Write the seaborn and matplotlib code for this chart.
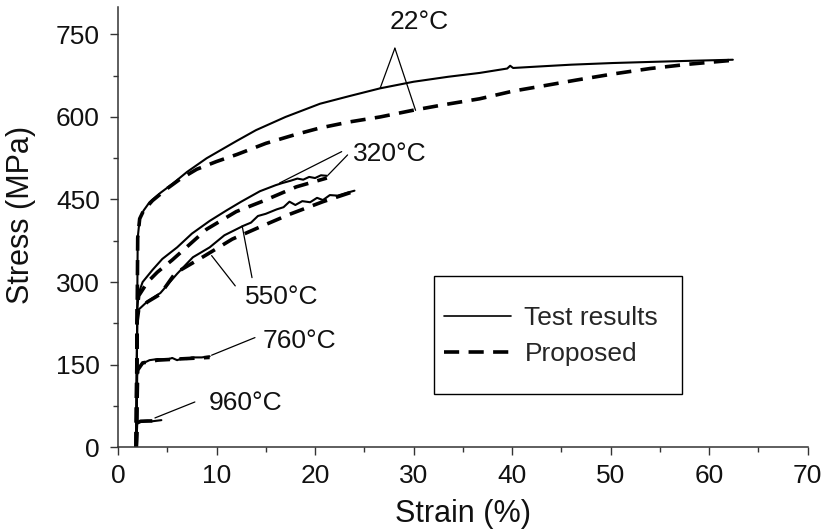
import matplotlib
matplotlib.use("Agg")
import matplotlib.pyplot as plt
import seaborn as sns
import pandas as pd
from matplotlib.lines import Line2D
from matplotlib.patches import Rectangle

# ---------------- data (strain %, stress MPa) ----------------
t22_x = [1.85, 2.0, 2.2, 2.6, 3.2, 4.3, 5.5, 7.0, 9.0, 12.0, 14.0, 17.0, 20.5, 23.5, 26.6,
         30.0, 33.5, 36.7, 39.5, 39.8, 40.1, 43.0, 46.0, 50.2, 54.0, 58.0, 62.4]
t22_y = [0, 380, 415, 430, 445, 462, 478, 500, 525, 556, 576, 600, 624, 638, 652,
         664, 673, 680, 688, 693, 689, 692, 695, 698, 700, 702, 704]
p22_x = [1.85, 2.0, 2.2, 2.6, 3.5, 5.0, 6.3, 8.0, 10.0, 12.1, 15.0, 18.0, 20.5, 23.5, 26.6,
         29.9, 33.0, 36.7, 40.1, 43.0, 46.5, 50.2, 54.0, 58.0, 62.4]
p22_y = [0, 380, 415, 430, 448, 470, 487, 505, 519, 532, 552, 568, 580, 591, 600,
         612, 622, 633, 647, 656, 667, 678, 688, 696, 703]

t320_x = [1.85, 1.95, 2.1, 2.5, 3.5, 4.5, 6.0, 7.5, 9.3, 11.0, 12.5, 14.4, 16.0, 16.7,
          17.5, 18.2, 18.8, 19.4, 20.0, 20.6, 21.2]
t320_y = [0, 250, 280, 300, 322, 342, 363, 388, 411, 430, 446, 465, 476, 480,
          484, 488, 486, 491, 489, 494, 493]
p320_x = [1.85, 1.95, 2.1, 3.0, 4.0, 5.5, 7.0, 9.0, 12.0, 14.7, 18.1, 21.2]
p320_y = [0, 250, 275, 300, 318, 340, 364, 396, 428, 447, 473, 489]

t550_x = [1.85, 1.95, 2.1, 3.0, 4.3, 6.0, 7.6, 9.3, 10.8, 12.7, 13.5, 14.2, 15.0, 16.1,
          16.8, 17.4, 18.0, 18.7, 19.5, 20.2, 20.8, 21.5, 22.3, 23.2, 24.0]
t550_y = [0, 230, 250, 265, 280, 315, 345, 363, 385, 402, 408, 420, 424, 432,
          436, 446, 440, 447, 445, 453, 449, 458, 457, 462, 466]
p550_x = [1.85, 1.95, 2.1, 3.0, 4.3, 5.8, 8.65, 11.6, 14.4, 17.4, 20.8, 24.0]
p550_y = [0, 230, 250, 264, 278, 316, 346, 378, 400, 423, 446, 465]

t760_x = [1.85, 1.95, 2.1, 2.5, 3.2, 4.0, 5.0, 5.5, 6.0, 6.5, 7.0, 7.5, 8.5, 9.3]
t760_y = [0, 130, 145, 152, 158, 160, 159, 162, 158, 161, 160, 163, 163, 165]
p760_x = [1.85, 2.0, 2.5, 4.0, 6.0, 9.3]
p760_y = [0, 140, 153, 158, 160, 163]

t960_x = [1.85, 1.95, 2.2, 3.0, 3.5, 4.4]
t960_y = [0, 42, 47, 48, 47, 49]
p960_x = [1.85, 1.95, 2.3, 4.4]
p960_y = [0, 44, 47, 48]

# annotation labels: (text, text_x, text_y, [(x0, y0, x1, y1), ...])
notes = [
    ("22\u00b0C", 30.6, 772, [(28.1, 725, 26.6, 652), (28.1, 725, 30.2, 612)]),
    ("320\u00b0C", 27.6, 533, [(22.7, 537, 16.4, 480), (23.3, 531, 21.3, 494)]),
    ("550\u00b0C", 16.6, 272, [(11.9, 293, 9.5, 348), (13.6, 308, 12.6, 402)]),
    ("760\u00b0C", 18.4, 193, [(13.9, 199, 9.5, 167)]),
    ("960\u00b0C", 12.9, 80, [(7.8, 82, 3.75, 53)]),
]

x_ticks = [0, 10, 20, 30, 40, 50, 60, 70]
y_ticks = [0, 150, 300, 450, 600, 750]

# ---------------- style ----------------
sns.set_style("ticks")
plt.rcParams["font.family"] = ["Liberation Sans", "DejaVu Sans"]

fig = plt.figure(figsize=(8.31, 5.31), dpi=100)
ax = fig.add_axes([0.142, 0.158, 0.830, 0.829])

tests = [(t22_x, t22_y), (t320_x, t320_y), (t550_x, t550_y), (t760_x, t760_y), (t960_x, t960_y)]
props = [(p22_x, p22_y), (p320_x, p320_y), (p550_x, p550_y), (p760_x, p760_y), (p960_x, p960_y)]

dash = (0, (4.2, 2.6))
for xs, ys in props:
    df = pd.DataFrame({"strain": xs, "stress": ys})
    sns.lineplot(data=df, x="strain", y="stress", sort=False, estimator=None,
                 color="black", lw=2.6, ax=ax, linestyle=dash)
for xs, ys in tests:
    df = pd.DataFrame({"strain": xs, "stress": ys})
    sns.lineplot(data=df, x="strain", y="stress", sort=False, estimator=None,
                 color="black", lw=1.5, ax=ax)

for txt, tx, ty, segs in notes:
    ax.text(tx, ty, txt, fontsize=19, ha="center", va="center", color="#111111")
    for (x0, y0, x1, y1) in segs:
        ax.plot([x0, x1], [y0, y1], color="black", lw=0.9)

ax.set_xlim(0, 70)
ax.set_ylim(0, 800)
ax.set_xticks(x_ticks)
ax.set_yticks(y_ticks)
ax.set_xticks([5, 15, 25, 35, 45, 55, 65], minor=True)
ax.set_yticks([75, 225, 375, 525, 675], minor=True)
ax.tick_params(axis="both", which="major", length=6, width=1.0, labelsize=19,
               colors="#333333", labelcolor="#111111", direction="out")
ax.tick_params(axis="both", which="minor", length=3.5, width=1.0, colors="#333333",
               direction="out")
ax.tick_params(axis="x", pad=6)
ax.tick_params(axis="y", pad=7)
ax.set_xlabel("Strain (%)", fontsize=22, labelpad=8, color="#111111")
ax.set_ylabel("Stress (MPa)", fontsize=22, color="#111111")
ax.yaxis.set_label_coords(-0.119, 0.527)
for s in ["top", "right"]:
    ax.spines[s].set_visible(False)
for s in ["left", "bottom"]:
    ax.spines[s].set_linewidth(1.1)
    ax.spines[s].set_color("#333333")

# legend box
ax.add_patch(Rectangle((0.458, 0.12), 0.359, 0.269, transform=ax.transAxes,
                       fill=False, edgecolor="black", lw=1.0, zorder=5))
handles = [Line2D([], [], color="black", lw=1.2),
           Line2D([], [], color="black", lw=2.6, linestyle=dash)]
ax.legend(handles, ["Test results", "Proposed"], loc="center left",
          bbox_to_anchor=(0.4725, 0.252), frameon=False, fontsize=19,
          handlelength=2.55, handletextpad=0.5, labelspacing=0.45,
          borderpad=0, borderaxespad=0)

fig.savefig("out.png", dpi=100)
